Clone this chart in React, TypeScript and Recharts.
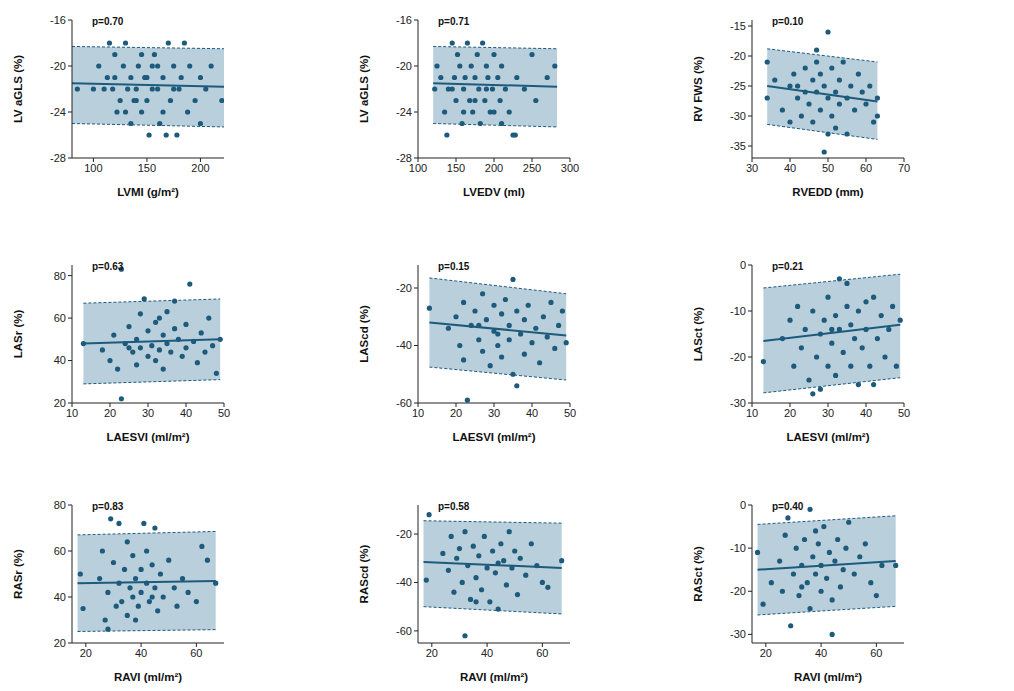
import React from "react";
import { ComposedChart, Area, Line, Scatter, XAxis, YAxis } from "recharts";

const C = "#1d5a7c";
const FILL = "#b9cfdc";

const p1: number[][] = [[85,-22],[100,-22],[105,-20],[110,-22],[113,-21],[115,-18],[118,-22],[120,-21],[122,-24],[125,-23],[128,-20],[130,-18],[132,-22],[135,-21],[138,-23],[140,-22],[142,-20],[145,-24],[148,-21],[150,-23],[152,-26],[155,-22],[157,-19],[160,-20],[162,-25],[165,-21],[168,-26],[170,-18],[172,-23],[175,-20],[178,-26],[180,-22],[182,-21],[185,-18],[188,-24],[190,-20],[195,-23],[200,-21],[205,-22],[210,-20],[220,-23],[200,-25],[160,-22],[150,-21],[140,-23],[130,-24],[145,-19],[165,-24],[155,-20],[175,-22],[120,-19],[135,-25]];
const p2: number[][] = [[122,-22],[125,-20],[130,-21],[135,-24],[138,-26],[140,-22],[145,-18],[148,-21],[150,-23],[152,-19],[155,-20],[158,-25],[160,-22],[162,-21],[165,-18],[168,-23],[170,-20],[172,-24],[175,-21],[178,-19],[180,-22],[182,-25],[185,-18],[188,-23],[190,-20],[192,-21],[195,-24],[198,-22],[200,-19],[205,-21],[208,-23],[210,-20],[215,-22],[220,-24],[225,-26],[228,-26],[230,-21],[240,-22],[250,-19],[255,-23],[270,-21],[280,-20],[160,-24],[175,-23],[190,-22],[200,-24],[145,-22],[210,-25]];
const p3: number[][] = [[34,-21],[34,-27],[36,-24],[38,-29],[40,-25],[40,-31],[41,-23],[42,-27],[43,-30],[44,-22],[44,-26],[45,-28],[46,-24],[46,-31],[47,-19],[47,-26],[48,-23],[48,-29],[49,-25],[49,-36],[50,-16],[50,-27],[51,-22],[51,-30],[52,-26],[52,-32],[53,-24],[53,-28],[54,-21],[55,-27],[55,-33],[56,-25],[57,-29],[58,-23],[59,-26],[60,-28],[61,-25],[62,-31],[63,-27],[63,-30],[42,-25],[50,-33],[47,-21]];
const p4: number[][] = [[13,48],[18,45],[20,40],[21,52],[22,36],[23,83],[23,22],[24,48],[25,56],[26,44],[27,50],[27,38],[28,62],[28,46],[29,69],[30,42],[30,54],[31,47],[32,58],[32,40],[33,45],[34,52],[34,36],[35,63],[35,48],[36,44],[37,55],[37,68],[38,50],[39,42],[40,57],[40,46],[41,76],[42,49],[43,39],[44,53],[45,44],[46,60],[47,47],[48,34],[49,50],[25,46],[33,60]];
const p5: number[][] = [[13,-27],[18,-34],[20,-30],[21,-40],[22,-25],[22,-45],[23,-59],[24,-33],[25,-28],[26,-38],[27,-22],[27,-42],[28,-31],[29,-47],[30,-26],[30,-35],[31,-40],[32,-29],[32,-44],[33,-24],[34,-33],[34,-38],[35,-17],[35,-50],[36,-28],[36,-54],[37,-36],[38,-31],[38,-43],[39,-26],[40,-39],[41,-34],[42,-46],[43,-30],[44,-37],[45,-25],[46,-41],[47,-33],[48,-28],[49,-39],[26,-33],[31,-36]];
const p6: number[][] = [[13,-21],[18,-16],[20,-12],[21,-22],[22,-9],[23,-18],[24,-14],[25,-25],[26,-10],[27,-20],[28,-15],[28,-27],[29,-12],[30,-22],[30,-7],[31,-17],[32,-11],[32,-24],[33,-3],[33,-14],[34,-19],[35,-4],[35,-9],[36,-22],[36,-13],[37,-16],[38,-26],[38,-10],[39,-18],[40,-8],[40,-14],[41,-22],[42,-7],[42,-26],[43,-16],[44,-11],[45,-20],[46,-14],[47,-9],[48,-22],[49,-12],[26,-28],[31,-14]];
const p7: number[][] = [[18,50],[19,35],[25,48],[26,60],[27,30],[28,26],[28,42],[29,74],[30,55],[31,36],[32,72],[32,46],[33,38],[34,52],[35,32],[35,64],[36,44],[37,58],[37,40],[38,48],[39,36],[40,52],[40,42],[41,72],[42,46],[42,60],[43,38],[44,54],[45,70],[45,44],[46,34],[47,50],[48,40],[50,56],[52,44],[53,36],[55,48],[57,42],[60,38],[62,62],[64,56],[67,46],[38,30],[44,40]];
const p8: number[][] = [[18,-39],[19,-12],[24,-28],[26,-35],[27,-21],[28,-44],[29,-30],[30,-26],[31,-40],[32,-62],[32,-19],[33,-33],[34,-47],[35,-25],[36,-38],[37,-29],[38,-43],[39,-21],[40,-34],[41,-48],[42,-27],[43,-36],[44,-51],[45,-24],[46,-31],[47,-41],[48,-19],[49,-34],[50,-27],[51,-45],[52,-30],[54,-37],[56,-24],[58,-33],[60,-40],[62,-42],[67,-31],[36,-48],[44,-32]];
const p9: number[][] = [[17,-11],[19,-23],[22,-18],[25,-13],[26,-20],[27,-7],[28,-3],[29,-28],[30,-16],[31,-10],[32,-21],[33,-14],[34,-8],[35,-18],[36,-1],[36,-24],[37,-12],[38,-16],[39,-9],[40,-20],[40,-14],[41,-5],[42,-17],[43,-11],[44,-30],[44,-22],[45,-13],[46,-8],[47,-19],[48,-15],[49,-10],[50,-4],[52,-16],[54,-12],[56,-9],[58,-18],[60,-21],[62,-14],[67,-14],[33,-19],[38,-6]];

type Panel = { pts: number[][]; xd: number[]; yd: number[]; xt: number[]; yt: number[]; bx: number[]; hi: number[]; fit: number[]; lo: number[]; xl: string; yl: string; p: string };

const panels: Panel[] = [
  { pts: p1, xd: [80, 222], yd: [-28, -16], xt: [100, 150, 200], yt: [-16, -20, -24, -28], bx: [80, 222], hi: [-18.3, -18.5], fit: [-21.5, -21.8], lo: [-25.0, -25.3], xl: "LVMI (g/m²)", yl: "LV aGLS (%)", p: "p=0.70" },
  { pts: p2, xd: [100, 300], yd: [-28, -16], xt: [100, 150, 200, 250, 300], yt: [-16, -20, -24, -28], bx: [120, 283], hi: [-18.3, -18.5], fit: [-21.5, -21.8], lo: [-25.0, -25.3], xl: "LVEDV (ml)", yl: "LV aGLS (%)", p: "p=0.71" },
  { pts: p3, xd: [30, 70], yd: [-37, -14], xt: [30, 40, 50, 60, 70], yt: [-15, -20, -25, -30, -35], bx: [34, 63], hi: [-18.8, -21], fit: [-25, -27.6], lo: [-31.4, -33.9], xl: "RVEDD (mm)", yl: "RV FWS (%)", p: "p=0.10" },
  { pts: p4, xd: [10, 50], yd: [20, 85], xt: [10, 20, 30, 40, 50], yt: [20, 40, 60, 80], bx: [13, 49], hi: [67, 69], fit: [48, 50], lo: [29, 31], xl: "LAESVI (ml/m²)", yl: "LASr (%)", p: "p=0.63" },
  { pts: p5, xd: [10, 50], yd: [-60, -12], xt: [10, 20, 30, 40, 50], yt: [-20, -40, -60], bx: [13, 49], hi: [-16.5, -22], fit: [-32, -36.5], lo: [-47.5, -52], xl: "LAESVI (ml/m²)", yl: "LAScd (%)", p: "p=0.15" },
  { pts: p6, xd: [10, 50], yd: [-30, 0], xt: [10, 20, 30, 40, 50], yt: [0, -10, -20, -30], bx: [13, 49], hi: [-5, -2], fit: [-16.5, -13], lo: [-27.8, -24.5], xl: "LAESVI (ml/m²)", yl: "LASct (%)", p: "p=0.21" },
  { pts: p7, xd: [15, 70], yd: [20, 80], xt: [20, 40, 60], yt: [20, 40, 60, 80], bx: [17, 67], hi: [67, 68.5], fit: [46, 47], lo: [25, 25.8], xl: "RAVI (ml/m²)", yl: "RASr (%)", p: "p=0.83" },
  { pts: p8, xd: [15, 70], yd: [-65, -8], xt: [20, 40, 60], yt: [-20, -40, -60], bx: [17, 67], hi: [-14.5, -15.5], fit: [-31.5, -34], lo: [-50, -53], xl: "RAVI (ml/m²)", yl: "RAScd (%)", p: "p=0.58" },
  { pts: p9, xd: [15, 70], yd: [-32, 0], xt: [20, 40, 60], yt: [0, -10, -20, -30], bx: [17, 67], hi: [-4.5, -2.5], fit: [-15, -13], lo: [-25.5, -23.5], xl: "RAVI (ml/m²)", yl: "RASct (%)", p: "p=0.40" },
];

const colL = [72, 418, 752];
const rowT = [20, 265, 505];
const PW = 152, PH = 138;
const tickStyle = { fontSize: 11, fill: "#222", fontFamily: "Arial, Liberation Sans" };
const labStyle = { fontSize: 11.5, fontWeight: 700, fill: "#111", fontFamily: "Arial, Liberation Sans" };

function PanelChart({ d, left, top }: { d: Panel; left: number; top: number }) {
  const band = d.bx.map((x, i) => ({ x, band: [d.lo[i], d.hi[i]], hi: d.hi[i], lo: d.lo[i], fit: d.fit[i] }));
  const pts = d.pts.map(([x, y]) => ({ x, y }));
  return (
    <div style={{ position: "absolute", left: left - 62, top: top - 10 }}>
      <ComposedChart width={PW + 72} height={PH + 58} data={band} margin={{ top: 10, right: 10, bottom: 0, left: 0 }}>
        <XAxis type="number" dataKey="x" domain={d.xd} ticks={d.xt} allowDataOverflow tick={tickStyle} stroke="#222" tickSize={4} height={48}
          label={{ value: d.xl, position: "insideBottom", offset: 10, style: labStyle }} />
        <YAxis type="number" domain={d.yd} ticks={d.yt} allowDataOverflow tick={tickStyle} stroke="#222" tickSize={4} width={62}
          label={{ value: d.yl, angle: -90, position: "insideLeft", offset: 8, style: { ...labStyle, textAnchor: "middle" } }} />
        <Area type="linear" dataKey="band" fill={FILL} fillOpacity={1} stroke="none" isAnimationActive={false} />
        <Line type="linear" dataKey="hi" stroke={C} strokeDasharray="3 2" strokeWidth={1} dot={false} isAnimationActive={false} />
        <Line type="linear" dataKey="lo" stroke={C} strokeDasharray="3 2" strokeWidth={1} dot={false} isAnimationActive={false} />
        <Line type="linear" dataKey="fit" stroke={C} strokeWidth={2} dot={false} isAnimationActive={false} />
        <Scatter data={pts} dataKey="y" fill={C} shape={(p: any) => <circle cx={p.cx} cy={p.cy} r={2.6} fill={C} />} isAnimationActive={false} />
      </ComposedChart>
      <div style={{ position: "absolute", left: 82, top: 6, fontSize: 10, fontWeight: 700, fontFamily: "Arial, Liberation Sans", color: "#111" }}>{d.p}</div>
    </div>
  );
}

export default function App() {
  return (
    <div style={{ position: "absolute", left: 0, top: 0, width: 1014, height: 691, background: "#fff" }}>
      {panels.map((d, i) => (
        <PanelChart key={i} d={d} left={colL[i % 3]} top={rowT[Math.floor(i / 3)]} />
      ))}
    </div>
  );
}
